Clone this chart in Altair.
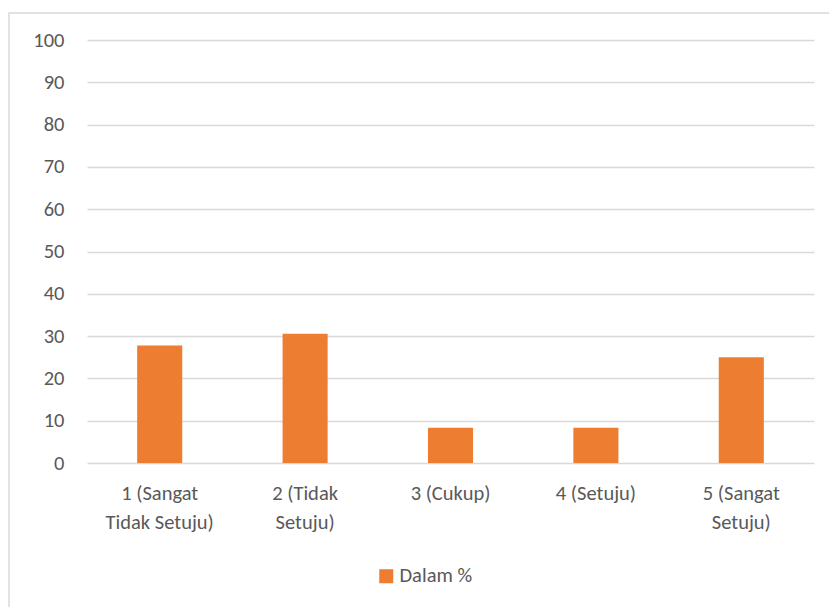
import altair as alt
import pandas as pd

# Survey response scale (line breaks mark where each label wraps)
categories = [
    "1 (Sangat\nTidak Setuju)",
    "2 (Tidak\nSetuju)",
    "3 (Cukup)",
    "4 (Setuju)",
    "5 (Sangat\nSetuju)",
]
# Share of respondents per answer, in percent
percent = [27.78, 30.56, 8.33, 8.33, 25.0]
series_name = "Dalam %"
y_ticks = [0, 10, 20, 30, 40, 50, 60, 70, 80, 90, 100]

df = pd.DataFrame({"kategori": categories, "nilai": percent, "seri": series_name})

FONT = "Carlito, Lato, sans-serif"
FONT_SIZE = 20.5
TEXT = "#595959"
GRID = "#d9d9d9"
ORANGE = "#ED7D31"

bars = alt.Chart(df).mark_bar(color=ORANGE).encode(
    x=alt.X(
        "kategori:N",
        sort=categories,
        title=None,
        scale=alt.Scale(paddingInner=0.69, paddingOuter=0.345),
        axis=alt.Axis(
            labelAngle=0,
            ticks=False,
            domain=False,
            labelPadding=20,
            labelLineHeight=29,
            labelExpr="split(datum.label, '\\n')",
        ),
    ),
    y=alt.Y(
        "nilai:Q",
        title=None,
        scale=alt.Scale(domain=[0, 100], nice=False),
        axis=alt.Axis(
            values=y_ticks,
            ticks=False,
            domain=False,
            grid=True,
            gridColor=GRID,
            gridWidth=1.5,
            labelPadding=23,
        ),
    ),
    fill=alt.Fill(
        "seri:N",
        scale=alt.Scale(range=[ORANGE]),
        legend=alt.Legend(
            title=None,
            orient="none",
            legendX=289,
            legendY=526,
            symbolType="square",
            symbolSize=196,
            symbolStrokeWidth=0,
            labelFontSize=FONT_SIZE,
            labelColor=TEXT,
            labelFont=FONT,
            labelOffset=3,
        ),
    ),
)

# light outer frame around the chart
frame = alt.Chart(pd.DataFrame({"f": [0]})).mark_rect(
    fill=None, stroke=GRID, strokeWidth=1.5
).encode(
    x=alt.value(-78),
    x2=alt.value(760),
    y=alt.value(-27),
    y2=alt.value(580),
)

chart = (
    alt.layer(frame, bars)
    .properties(
        width=727,
        height=423,
        autosize=alt.AutoSizeParams(type="none"),
        padding={"left": 87, "top": 40, "right": 15, "bottom": 144},
        background="white",
    )
    .configure_view(stroke=None)
    .configure_axis(
        labelFont=FONT,
        labelFontSize=FONT_SIZE,
        labelColor=TEXT,
    )
)

chart.save("out.html", embed_options={"renderer": "svg", "actions": False})
